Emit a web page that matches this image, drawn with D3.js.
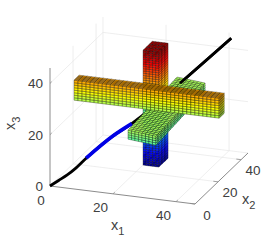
<!DOCTYPE html>
<html><head><meta charset="utf-8">
<script src="https://cdn.jsdelivr.net/npm/d3@7"></script>
<style>html,body{margin:0;padding:0;background:#fff}svg{display:block}text{font-family:"Liberation Sans",Arial,sans-serif;fill:#404040}</style>
</head><body><svg id="c" width="274" height="240"></svg>
<script>
const limit = 46;
const ticks = [0, 20, 40];
const tickLabelsX1 = ["0", "20", "40"];
const tickLabelsX2 = ["0", "20", "40"];
const tickLabelsX3 = ["0", "20", "40"];
// curve samples (x1, x2, x3)
const lineX1 = [0, 2, 4, 6, 8.4, 14.6, 19, 20.2, 30.2, 42.1];
const lineX2 = [0, 2, 4, 6, 8.4, 14.6, 19, 20.2, 30.2, 42.1];
const lineX3 = [0, 1.6, 3.2, 5.3, 8.5, 15.4, 19, 20.2, 31.6, 45.8];
const blueFrom = 4, blueTo = 6, upperFrom = 8;
// boxes: [min,max] along each axis with cell counts
const boxNames = ["column", "barX2", "barX1"];
const boxX1 = [[20.5, 25.5], [24.2, 33.8], [0.5, 46.5]];
const boxX2 = [[24.7, 32.7], [1.5, 44.1], [19.5, 24]];
const boxX3 = [[0.6, 45.4], [21.3, 24.8], [25.1, 32.9]];
const boxSkew = [0, -2, 0];
const boxTilt = [0, 2.3, 0];
const cellsX1 = [5, 8, 36];
const cellsX2 = [3, 34, 5];
const cellsX3 = [50, 4, 8];

const sx1 = d3.scaleLinear().domain([0, limit]).range([0, 145]);
const sx1y = d3.scaleLinear().domain([0, limit]).range([0, 18]);
const sx2 = d3.scaleLinear().domain([0, limit]).range([0, 53]);
const sx2y = d3.scaleLinear().domain([0, limit]).range([0, -51]);
const sx3 = d3.scaleLinear().domain([0, limit]).range([0, -118]);
const px = (a, b) => 50 + sx1(a) + sx2(b);
const py = (a, b, c) => 186 + sx1y(a) + sx2y(b) + sx3(c);
const P = (a, b, c) => [px(a, b), py(a, b, c)];
const jet = d3.scaleLinear()
  .domain([0, .125, .375, .625, .875, 1].map(d => d * limit))
  .range(["#000080", "#0000ff", "#00ffff", "#ffff00", "#ff0000", "#800000"]).clamp(true);

const svg = d3.select("#c");
const seg = (g, p, q, col, w) => g.append("line").attr("x1", p[0]).attr("y1", p[1]).attr("x2", q[0]).attr("y2", q[1]).attr("stroke", col).attr("stroke-width", w);
const grid = svg.append("g");
const gc = "#e6e6e6";
ticks.forEach(t => {
  if (t > 0) {
    seg(grid, P(t, 0, 0), P(t, limit, 0), gc, .7);
    seg(grid, P(t, limit, 0), P(t, limit, limit), gc, .7);
    seg(grid, P(0, t, 0), P(limit, t, 0), gc, .7);
    seg(grid, P(0, t, 0), P(0, t, limit), gc, .7);
    seg(grid, P(0, 0, t), P(0, limit, t), gc, .7);
    seg(grid, P(0, limit, t), P(limit, limit, t), gc, .7);
  }
});
seg(grid, P(0, limit, 0), P(0, limit, limit), gc, .7);
seg(grid, P(0, limit, 0), P(0, 0, 0), gc, .7);
seg(grid, P(0, limit, 0), P(limit, limit, 0), gc, .7);
// axes
const ax = "#8c8c8c";
seg(grid, P(0, 0, 0), P(0, 0, limit), ax, 1);
seg(grid, P(0, 0, 0), P(limit, 0, 0), ax, 1);
seg(grid, P(limit, 0, 0), P(limit, limit, 0), ax, 1);
ticks.forEach(t => {
  seg(grid, P(0, 0, t), P(0, 1.5, t), ax, .8);
  seg(grid, P(t, 0, 0), P(t, 1.5, 0), ax, .8);
  seg(grid, P(limit, t, 0), P(limit - 1.5, t, 0), ax, .8);
});

function drawBox(g, i) {
  const lin = (n, r) => d3.range(n + 1).map(k => d3.scaleLinear().domain([0, n]).range(r)(k));
  const xs = lin(cellsX1[i], boxX1[i]), ys = lin(cellsX2[i], boxX2[i]), zs = lin(cellsX3[i], boxX3[i]);
  const skew = d3.scaleLinear().domain(boxX1[i]).range([0, boxSkew[i]]);
  const tilt = d3.scaleLinear().domain(boxX2[i]).range([0, boxTilt[i]]);
  const Q = (a, b, c) => P(a, b + skew(a), c + tilt(b));
  const quad = (pts, v) => g.append("path")
    .attr("d", d3.line()(pts) + "Z").attr("fill", jet(v))
    .attr("stroke", "#000").attr("stroke-width", .5).attr("stroke-opacity", .65);
  const y0 = ys[0], x9 = xs[xs.length - 1], z9 = zs[zs.length - 1];
  for (let a = 0; a < xs.length - 1; a++) for (let c = 0; c < zs.length - 1; c++)
    quad([Q(xs[a], y0, zs[c]), Q(xs[a + 1], y0, zs[c]), Q(xs[a + 1], y0, zs[c + 1]), Q(xs[a], y0, zs[c + 1])], (zs[c] + zs[c + 1]) / 2);
  for (let b = 0; b < ys.length - 1; b++) for (let c = 0; c < zs.length - 1; c++)
    quad([Q(x9, ys[b], zs[c]), Q(x9, ys[b + 1], zs[c]), Q(x9, ys[b + 1], zs[c + 1]), Q(x9, ys[b], zs[c + 1])], (zs[c] + zs[c + 1]) / 2);
  for (let a = 0; a < xs.length - 1; a++) for (let b = 0; b < ys.length - 1; b++)
    quad([Q(xs[a], ys[b], z9), Q(xs[a + 1], ys[b], z9), Q(xs[a + 1], ys[b + 1], z9), Q(xs[a], ys[b + 1], z9)], z9);
}
const curve = d3.line().x(i => px(lineX1[i], lineX2[i])).y(i => py(lineX1[i], lineX2[i], lineX3[i])).curve(d3.curveMonotoneX);
const idx = d3.range(lineX1.length);
const lineG = svg.append("g").attr("fill", "none");
lineG.append("path").attr("d", curve(idx)).attr("stroke", "#000").attr("stroke-width", 2.8);
lineG.append("path").attr("d", curve(idx.slice(blueFrom, blueTo + 1))).attr("stroke", "#0000e6").attr("stroke-width", 3.6);

drawBox(svg.append("g"), 0);
drawBox(svg.append("g"), 1);
svg.append("path").attr("fill", "none").attr("d", curve(idx.slice(upperFrom))).attr("stroke", "#000").attr("stroke-width", 2.8);
drawBox(svg.append("g"), 2);

// tick labels
const lab = svg.append("g").attr("font-size", 13.5);
ticks.forEach((t, i) => {
  lab.append("text").attr("x", px(0, 0) - 7).attr("y", py(0, 0, t) + 5).attr("text-anchor", "end").text(tickLabelsX3[i]);
  lab.append("text").attr("x", px(t, 0) - (i === 0 ? 9 : 12.5)).attr("y", py(t, 0, 0) + 18.5).attr("text-anchor", "middle").text(tickLabelsX1[i]);
  lab.append("text").attr("x", px(limit, t) + 12).attr("y", py(limit, t, 0) + 15.5).attr("text-anchor", "middle").text(tickLabelsX2[i]);
});
function axisLabel(x, y, sub, rot) {
  const t = lab.append("text").attr("transform", `translate(${x},${y}) rotate(${rot})`).attr("font-size", 14.5);
  t.append("tspan").text("x");
  t.append("tspan").attr("font-size", 11).attr("dy", 5).text(sub);
}
axisLabel(111, 230, "1", 0);
axisLabel(242, 204, "2", 0);
axisLabel(15, 130, "3", -90);
</script></body></html>
